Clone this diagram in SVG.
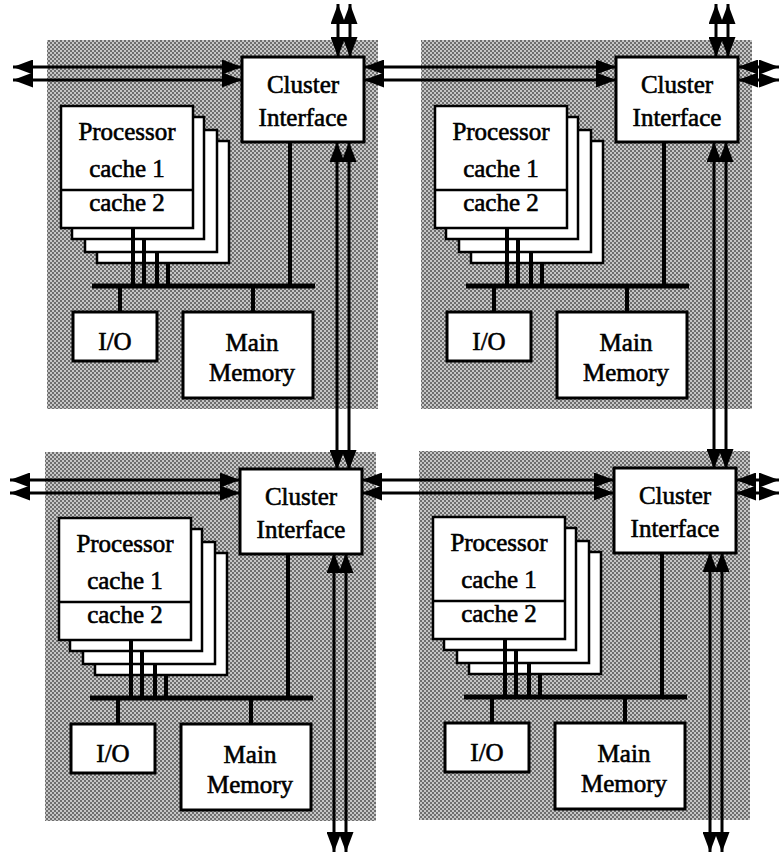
<svg xmlns="http://www.w3.org/2000/svg" width="780" height="856" viewBox="0 0 780 856">
  <defs>
    <!-- dithered grey fill for the cluster panels -->
    <pattern id="dither" width="4" height="4" patternUnits="userSpaceOnUse">
      <rect width="4" height="4" fill="#c6c6c6"/>
      <rect x="0" y="0" width="2" height="2" fill="#6e6e6e"/>
      <rect x="2" y="2" width="2" height="2" fill="#6e6e6e"/>
    </pattern>
    <marker id="head" viewBox="0 0 20 15" refX="20" refY="7.5" markerWidth="20" markerHeight="15" markerUnits="userSpaceOnUse" orient="auto-start-reverse">
      <path d="M0,0 L20,7.5 L0,15 Z" fill="#000"/>
    </marker>
    <style>
      .panel { fill: url(#dither); stroke: none; }
      .box { fill: #fff; stroke: #000; stroke-width: 3; }
      .pbox { fill: #fff; stroke: #000; stroke-width: 2.5; }
      .div { stroke: #000; stroke-width: 2.5; }
      .bus { stroke: #000; stroke-width: 5; }
      .tap { stroke: #000; stroke-width: 4; }
      .link { stroke: #000; stroke-width: 3; fill: none; marker-start: url(#head); marker-end: url(#head); }
      text { font-family: "Liberation Serif", "Times New Roman", serif; font-size: 25px; fill: #000; stroke: #000; stroke-width: 0.6; text-anchor: middle; }
    </style>
  </defs>

  <rect width="780" height="856" fill="#fff"/>

  <!-- cluster panels -->
  <g id="panels">
    <rect class="panel" x="47" y="40" width="331" height="369"/>
    <rect class="panel" x="421" y="40" width="331" height="369"/>
    <rect class="panel" x="45" y="452" width="331" height="369"/>
    <rect class="panel" x="419" y="451" width="331" height="369"/>
  </g>

  <!-- cluster NW -->
  <g id="cluster-nw">
    <g id="proc-nw">
      <rect class="pbox" x="97" y="141" width="132" height="122"/>
      <rect class="pbox" x="85" y="130" width="132" height="122"/>
      <rect class="pbox" x="72" y="117" width="132" height="122"/>
      <rect class="pbox" x="61" y="106" width="132" height="122"/>
      <line class="div" x1="61" y1="190" x2="193" y2="190"/>
      <text x="127" y="140">Processor</text>
      <text x="127" y="177">cache 1</text>
      <text x="127" y="211">cache 2</text>
    </g>
    <g id="bus-nw">
      <line class="tap" x1="133" y1="228" x2="133" y2="286"/>
      <line class="tap" x1="144" y1="239" x2="144" y2="286"/>
      <line class="tap" x1="157" y1="252" x2="157" y2="286"/>
      <line class="tap" x1="168" y1="263" x2="168" y2="286"/>
      <line class="tap" x1="290" y1="142" x2="290" y2="286"/>
      <line class="bus" x1="92" y1="286" x2="315" y2="286"/>
      <line class="tap" x1="120" y1="286" x2="120" y2="312"/>
      <line class="tap" x1="253" y1="286" x2="253" y2="312"/>
    </g>
    <g id="ci-nw">
      <rect class="box" x="242" y="57" width="122" height="85"/>
      <text x="303" y="93">Cluster</text>
      <text x="303" y="126">Interface</text>
    </g>
    <g id="io-nw">
      <rect class="box" x="73" y="312" width="84" height="49"/>
      <text x="115" y="350">I/O</text>
    </g>
    <g id="mem-nw">
      <rect class="box" x="183" y="312" width="130" height="86"/>
      <text x="252" y="351">Main</text>
      <text x="252" y="381">Memory</text>
    </g>
  </g>

  <!-- cluster NE -->
  <g id="cluster-ne" transform="translate(374,0)">
    <g id="proc-ne">
      <rect class="pbox" x="97" y="141" width="132" height="122"/>
      <rect class="pbox" x="85" y="130" width="132" height="122"/>
      <rect class="pbox" x="72" y="117" width="132" height="122"/>
      <rect class="pbox" x="61" y="106" width="132" height="122"/>
      <line class="div" x1="61" y1="190" x2="193" y2="190"/>
      <text x="127" y="140">Processor</text>
      <text x="127" y="177">cache 1</text>
      <text x="127" y="211">cache 2</text>
    </g>
    <g id="bus-ne">
      <line class="tap" x1="133" y1="228" x2="133" y2="286"/>
      <line class="tap" x1="144" y1="239" x2="144" y2="286"/>
      <line class="tap" x1="157" y1="252" x2="157" y2="286"/>
      <line class="tap" x1="168" y1="263" x2="168" y2="286"/>
      <line class="tap" x1="290" y1="142" x2="290" y2="286"/>
      <line class="bus" x1="92" y1="286" x2="315" y2="286"/>
      <line class="tap" x1="120" y1="286" x2="120" y2="312"/>
      <line class="tap" x1="253" y1="286" x2="253" y2="312"/>
    </g>
    <g id="ci-ne">
      <rect class="box" x="242" y="57" width="122" height="85"/>
      <text x="303" y="93">Cluster</text>
      <text x="303" y="126">Interface</text>
    </g>
    <g id="io-ne">
      <rect class="box" x="73" y="312" width="84" height="49"/>
      <text x="115" y="350">I/O</text>
    </g>
    <g id="mem-ne">
      <rect class="box" x="183" y="312" width="130" height="86"/>
      <text x="252" y="351">Main</text>
      <text x="252" y="381">Memory</text>
    </g>
  </g>

  <!-- cluster SW -->
  <g id="cluster-sw" transform="translate(-2,412)">
    <g id="proc-sw">
      <rect class="pbox" x="97" y="141" width="132" height="122"/>
      <rect class="pbox" x="85" y="130" width="132" height="122"/>
      <rect class="pbox" x="72" y="117" width="132" height="122"/>
      <rect class="pbox" x="61" y="106" width="132" height="122"/>
      <line class="div" x1="61" y1="190" x2="193" y2="190"/>
      <text x="127" y="140">Processor</text>
      <text x="127" y="177">cache 1</text>
      <text x="127" y="211">cache 2</text>
    </g>
    <g id="bus-sw">
      <line class="tap" x1="133" y1="228" x2="133" y2="286"/>
      <line class="tap" x1="144" y1="239" x2="144" y2="286"/>
      <line class="tap" x1="157" y1="252" x2="157" y2="286"/>
      <line class="tap" x1="168" y1="263" x2="168" y2="286"/>
      <line class="tap" x1="290" y1="142" x2="290" y2="286"/>
      <line class="bus" x1="92" y1="286" x2="315" y2="286"/>
      <line class="tap" x1="120" y1="286" x2="120" y2="312"/>
      <line class="tap" x1="253" y1="286" x2="253" y2="312"/>
    </g>
    <g id="ci-sw">
      <rect class="box" x="242" y="57" width="122" height="85"/>
      <text x="303" y="93">Cluster</text>
      <text x="303" y="126">Interface</text>
    </g>
    <g id="io-sw">
      <rect class="box" x="73" y="312" width="84" height="49"/>
      <text x="115" y="350">I/O</text>
    </g>
    <g id="mem-sw">
      <rect class="box" x="183" y="312" width="130" height="86"/>
      <text x="252" y="351">Main</text>
      <text x="252" y="381">Memory</text>
    </g>
  </g>

  <!-- cluster SE -->
  <g id="cluster-se" transform="translate(372,411)">
    <g id="proc-se">
      <rect class="pbox" x="97" y="141" width="132" height="122"/>
      <rect class="pbox" x="85" y="130" width="132" height="122"/>
      <rect class="pbox" x="72" y="117" width="132" height="122"/>
      <rect class="pbox" x="61" y="106" width="132" height="122"/>
      <line class="div" x1="61" y1="190" x2="193" y2="190"/>
      <text x="127" y="140">Processor</text>
      <text x="127" y="177">cache 1</text>
      <text x="127" y="211">cache 2</text>
    </g>
    <g id="bus-se">
      <line class="tap" x1="133" y1="228" x2="133" y2="286"/>
      <line class="tap" x1="144" y1="239" x2="144" y2="286"/>
      <line class="tap" x1="157" y1="252" x2="157" y2="286"/>
      <line class="tap" x1="168" y1="263" x2="168" y2="286"/>
      <line class="tap" x1="290" y1="142" x2="290" y2="286"/>
      <line class="bus" x1="92" y1="286" x2="315" y2="286"/>
      <line class="tap" x1="120" y1="286" x2="120" y2="312"/>
      <line class="tap" x1="253" y1="286" x2="253" y2="312"/>
    </g>
    <g id="ci-se">
      <rect class="box" x="242" y="57" width="122" height="85"/>
      <text x="303" y="93">Cluster</text>
      <text x="303" y="126">Interface</text>
    </g>
    <g id="io-se">
      <rect class="box" x="73" y="312" width="84" height="49"/>
      <text x="115" y="350">I/O</text>
    </g>
    <g id="mem-se">
      <rect class="box" x="183" y="312" width="130" height="86"/>
      <text x="252" y="351">Main</text>
      <text x="252" y="381">Memory</text>
    </g>
  </g>

  <!-- interconnect: paired bidirectional links between cluster interfaces -->
  <g id="connectors">
    <!-- top row, horizontal -->
    <line class="link" x1="13" y1="67" x2="242" y2="67"/>
    <line class="link" x1="13" y1="80" x2="242" y2="80"/>
    <line class="link" x1="364" y1="67" x2="616" y2="67"/>
    <line class="link" x1="364" y1="80" x2="616" y2="80"/>
    <line class="link" x1="738" y1="67" x2="779" y2="67"/>
    <line class="link" x1="738" y1="80" x2="779" y2="80"/>
    <!-- bottom row, horizontal -->
    <line class="link" x1="10" y1="480" x2="240" y2="480"/>
    <line class="link" x1="10" y1="493" x2="240" y2="493"/>
    <line class="link" x1="362" y1="480" x2="614" y2="480"/>
    <line class="link" x1="362" y1="493" x2="614" y2="493"/>
    <line class="link" x1="736" y1="480" x2="779" y2="480"/>
    <line class="link" x1="736" y1="493" x2="779" y2="493"/>
    <!-- left column, vertical -->
    <line class="link" x1="338" y1="4" x2="338" y2="57"/>
    <line class="link" x1="350" y1="4" x2="350" y2="57"/>
    <line class="link" x1="337" y1="142" x2="337" y2="470"/>
    <line class="link" x1="349" y1="142" x2="349" y2="470"/>
    <line class="link" x1="334" y1="553" x2="334" y2="852"/>
    <line class="link" x1="346" y1="553" x2="346" y2="852"/>
    <!-- right column, vertical -->
    <line class="link" x1="716" y1="4" x2="716" y2="57"/>
    <line class="link" x1="728" y1="4" x2="728" y2="57"/>
    <line class="link" x1="714" y1="142" x2="714" y2="469"/>
    <line class="link" x1="726" y1="142" x2="726" y2="469"/>
    <line class="link" x1="710" y1="552" x2="710" y2="852"/>
    <line class="link" x1="722" y1="552" x2="722" y2="852"/>
  </g>
</svg>
